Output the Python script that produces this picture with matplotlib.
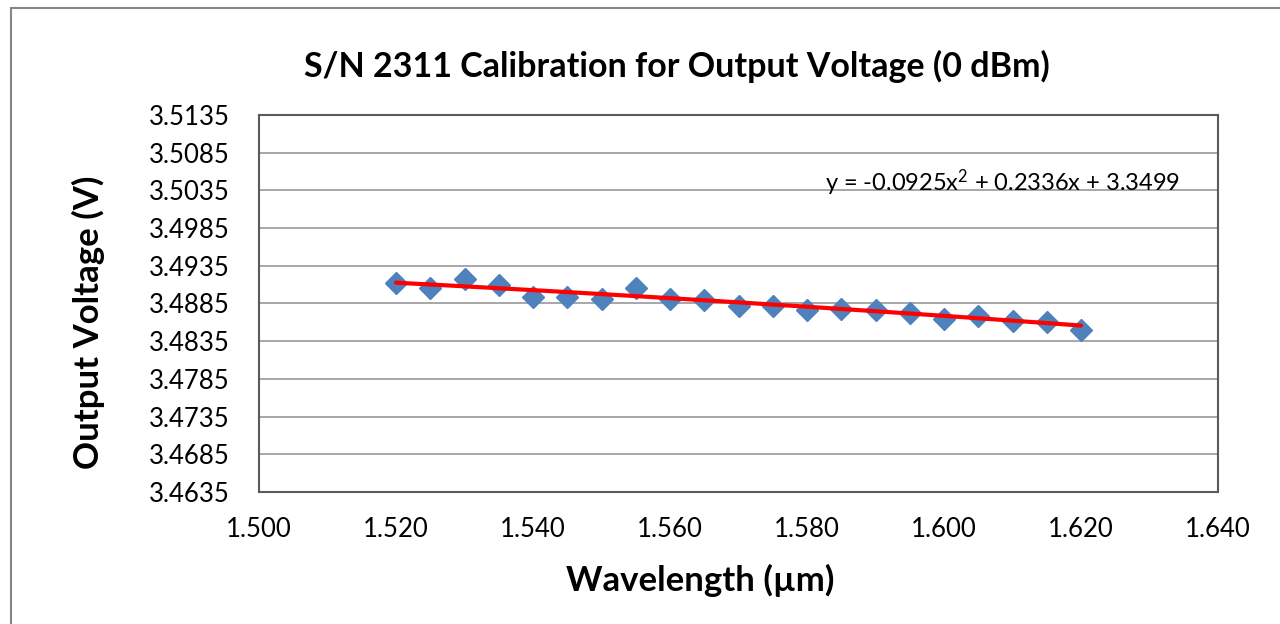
import numpy as np
import matplotlib
matplotlib.use("Agg")
import matplotlib.pyplot as plt
from matplotlib.patches import Rectangle

plt.rcParams['font.family'] = ['Lato', 'DejaVu Sans']
plt.rcParams['mathtext.fontset'] = 'custom'
plt.rcParams['mathtext.rm'] = 'Lato'
plt.rcParams['mathtext.it'] = 'Lato'

wavelength = [1.520, 1.525, 1.530, 1.535, 1.540, 1.545, 1.550, 1.555, 1.560, 1.565,
              1.570, 1.575, 1.580, 1.585, 1.590, 1.595, 1.600, 1.605, 1.610, 1.615, 1.620]
voltage = [3.4912, 3.4905, 3.4917, 3.4909, 3.4893, 3.4894, 3.4891, 3.4905, 3.4891, 3.4890,
           3.4882, 3.4882, 3.4877, 3.4878, 3.4876, 3.4873, 3.4864, 3.4869, 3.4862, 3.4860, 3.4850]
trend_coeffs = [-0.0925, 0.2336, 3.3499]
y_ticks = [3.4635, 3.4685, 3.4735, 3.4785, 3.4835, 3.4885, 3.4935, 3.4985, 3.5035, 3.5085, 3.5135]
x_ticks = [1.500, 1.520, 1.540, 1.560, 1.580, 1.600, 1.620, 1.640]

title = "S/N 2311 Calibration for Output Voltage (0 dBm)"
xlabel = "Wavelength (\u00b5m)"
ylabel = "Output Voltage (V)"
eq_text = r"y = -0.0925x$^{\mathrm{2}}$ + 0.2336x + 3.3499"

W, H = 1280, 624
fig = plt.figure(figsize=(W / 100, H / 100), dpi=100)
fig.patch.set_facecolor('white')

# outer chart border
fig.add_artist(Rectangle((11 / W, -0.1), 1.2, 1 - 8 / H + 0.1, transform=fig.transFigure,
                         fill=False, edgecolor='#868686', linewidth=1.5))

ax = fig.add_axes([259 / W, 1 - 492 / H, (1218 - 259) / W, (492 - 115) / H])

ax.set_xlim(x_ticks[0], x_ticks[-1])
ax.set_ylim(y_ticks[0], y_ticks[-1])
ax.set_xticks(x_ticks)
ax.set_yticks(y_ticks)
ax.set_xticklabels([f"{v:.3f}" for v in x_ticks])
ax.set_yticklabels([f"{v:.4f}" for v in y_ticks])
ax.tick_params(axis='both', length=0, labelsize=18.5, colors='black')
ax.tick_params(axis='y', pad=21)
ax.tick_params(axis='x', pad=18)

ax.grid(axis='y', color='#a0a0a0', linewidth=1.3)
ax.set_axisbelow(True)
for s in ax.spines.values():
    s.set_color('#5a5a5a')
    s.set_linewidth(1.5)

ax.plot(wavelength, voltage, linestyle='none', marker='D', markersize=11.5,
        color='#4F81BD', zorder=3)

xs = np.linspace(min(wavelength), max(wavelength), 100)
ys = np.polyval(trend_coeffs, xs)
ax.plot(xs, ys, color='#FF0000', linewidth=3, zorder=4, solid_capstyle='round')

ax.text(1.6085, 3.5045, eq_text, fontsize=17, ha='center', va='center')

fig.text(677 / W, 1 - 66 / H, title, fontsize=24.5, fontweight='bold', ha='center', va='center')
fig.text(700 / W, 1 - 580 / H, xlabel, fontsize=25, fontweight='bold', ha='center', va='center')
fig.text(88 / W, 1 - 322 / H, ylabel, fontsize=25, fontweight='bold', ha='center', va='center',
         rotation=90)

fig.savefig("out.png", dpi=100)
